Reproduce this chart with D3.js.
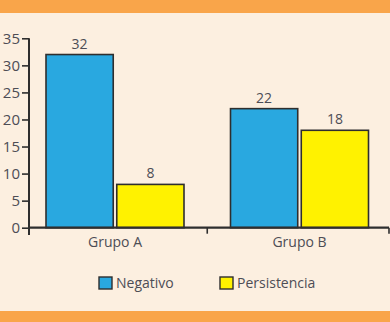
<!DOCTYPE html>
<html><head><meta charset="utf-8">
<script src="https://cdn.jsdelivr.net/npm/d3@7"></script>
<style>html,body{margin:0;padding:0;background:#fcefe0;}svg{display:block;}</style>
</head><body>
<script>
const categories = ["Grupo A", "Grupo B"];
const seriesNames = ["Negativo", "Persistencia"];
const negativo = [32, 22];
const persistencia = [8, 18];
const yTicks = [0, 5, 10, 15, 20, 25, 30, 35];
const colors = ["#29a8e0", "#fff200"];

const W = 390, H = 322;
const font = "'Open Sans', Lato, sans-serif";
const textColor = "#4d4d55";
const svg = d3.select("body").append("svg").attr("width", W).attr("height", H);
svg.append("rect").attr("width", W).attr("height", H).attr("fill", "#fcefe0");
svg.append("rect").attr("x", 0).attr("y", 0).attr("width", W).attr("height", 13).attr("fill", "#f9a54a");
svg.append("rect").attr("x", 0).attr("y", 311).attr("width", W).attr("height", 11).attr("fill", "#f9a54a");

const x0 = 29, x1 = 389;
const y = d3.scaleLinear().domain([0, 35]).range([227.7, 38.3]);
const xb = d3.scaleBand().domain(categories).range([22.75, 391.75]).paddingInner(0).paddingOuter(0);
const xs = d3.scaleBand().domain(seriesNames).range([23.25, xb.bandwidth() - 23.25]).paddingInner(0.05);

const data = categories.map((c, i) => ({cat: c, vals: [negativo[i], persistencia[i]]}));

// bars
const g = svg.selectAll(".grp").data(data).enter().append("g")
  .attr("transform", d => `translate(${xb(d.cat)},0)`);
g.selectAll("rect").data(d => d.vals.map((v, j) => ({v, s: seriesNames[j], j}))).enter().append("rect")
  .attr("x", d => xs(d.s)).attr("width", xs.bandwidth())
  .attr("y", d => y(d.v)).attr("height", d => y(0) - y(d.v))
  .attr("fill", d => colors[d.j]).attr("stroke", "#2e2e2e").attr("stroke-width", 1.6);
g.selectAll("text").data(d => d.vals.map((v, j) => ({v, s: seriesNames[j]}))).enter().append("text")
  .attr("x", d => xs(d.s) + xs.bandwidth() / 2).attr("y", d => y(d.v) - 6)
  .attr("text-anchor", "middle").attr("font-family", font).attr("font-size", 14)
  .attr("fill", textColor).text(d => d.v);

// y axis
const yAxis = svg.append("g").attr("transform", `translate(${x0},0)`)
  .call(d3.axisLeft(y).tickValues(yTicks).tickSize(7).tickPadding(2));
yAxis.select(".domain").remove();
yAxis.append("line").attr("x1", 0).attr("x2", 0).attr("y1", y(35)).attr("y2", 235)
  .attr("stroke", "#2e2e2e").attr("stroke-width", 2);
yAxis.selectAll(".tick line").attr("stroke", "#2e2e2e").attr("stroke-width", 1.6);
yAxis.selectAll(".tick text").attr("font-family", font).attr("font-size", 15).attr("fill", textColor);

// x axis
const xAxis = svg.append("g").attr("transform", `translate(0,${y(0)})`)
  .call(d3.axisBottom(xb).tickSize(0).tickPadding(9));
xAxis.select(".domain").remove();
xAxis.append("line").attr("x1", x0).attr("x2", x1).attr("y1", 0).attr("y2", 0)
  .attr("stroke", "#2e2e2e").attr("stroke-width", 2.2);
xAxis.selectAll(".tick text").attr("font-family", font).attr("font-size", 14).attr("fill", textColor);
[xb("Grupo B"), x1].forEach(xx => {
  xAxis.append("line").attr("x1", xx).attr("x2", xx)
    .attr("y1", 0).attr("y2", 6).attr("stroke", "#2e2e2e").attr("stroke-width", 1.6);
});

// legend
const legX = [99, 220];
const leg = svg.selectAll(".leg").data(seriesNames).enter().append("g")
  .attr("transform", (d, i) => `translate(${legX[i]},277)`);
leg.append("rect").attr("width", 13).attr("height", 12)
  .attr("fill", (d, i) => colors[i]).attr("stroke", "#2e2e2e").attr("stroke-width", 1.4);
leg.append("text").attr("x", 17).attr("y", 11).attr("font-family", font).attr("font-size", 14)
  .attr("fill", textColor).text(d => d);
</script>
</body></html>
